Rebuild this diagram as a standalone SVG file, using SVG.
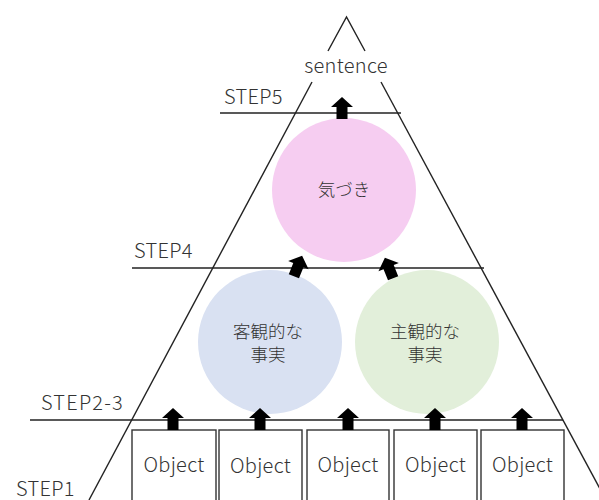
<svg xmlns="http://www.w3.org/2000/svg" width="599" height="500" viewBox="0 0 599 500">
<defs>
<style>
.ln{stroke:#222;stroke-width:1.4;fill:none}
.t{font-family:"Noto Sans CJK JP","Noto Sans",sans-serif;fill:#333;font-weight:300}
.lbl{font-size:20px;letter-spacing:0.3px}
.jp{font-size:17.5px}
.box{fill:#fff;stroke:#333;stroke-width:1.4}
.ar{fill:#000}
</style>
<path id="arr" d="M0,-11 L11,-1 L5.5,-1 L5.5,11 L-5.5,11 L-5.5,-1 L-11,-1 Z"/>
</defs>
<rect width="599" height="500" fill="#fff"/>
<g id="frame">
<path class="ln" d="M328,51 L346.5,17 L365,51"/>
<path class="ln" d="M312,82 L89,500"/>
<path class="ln" d="M381,82 L606,500"/>
<line class="ln" x1="220" y1="113" x2="401" y2="113"/>
<line class="ln" x1="132" y1="268" x2="484" y2="268"/>
<line class="ln" x1="30" y1="420" x2="563" y2="420"/>
<text class="t lbl" x="346" y="73" text-anchor="middle">sentence</text>
<text class="t lbl" x="224" y="104">STEP5</text>
<text class="t lbl" x="134" y="258">STEP4</text>
<text class="t lbl" x="41" y="410" style="letter-spacing:1.2px">STEP2-3</text>
<text class="t lbl" x="16" y="496">STEP1</text>
</g>
<g id="kizuki">
<circle cx="344" cy="190" r="72" fill="#f6cdf1"/>
<text class="t jp" x="344" y="196" text-anchor="middle" fill="#595959">気づき</text>
</g>
<g id="kyakkan">
<circle cx="270" cy="342" r="72" fill="#d9e1f2"/>
<text class="t jp" x="268" y="338" text-anchor="middle">客観的な</text>
<text class="t jp" x="268" y="361" text-anchor="middle">事実</text>
</g>
<g id="shukan">
<circle cx="427" cy="342" r="72" fill="#e2efda"/>
<text class="t jp" x="425" y="338" text-anchor="middle">主観的な</text>
<text class="t jp" x="425" y="361" text-anchor="middle">事実</text>
</g>
<g id="obj1"><rect class="box" x="132" y="430" width="84" height="80"/><text class="t lbl" x="174" y="472" text-anchor="middle">Object</text></g>
<g id="obj2"><rect class="box" x="219" y="430" width="83" height="80"/><text class="t lbl" x="260.5" y="473" text-anchor="middle">Object</text></g>
<g id="obj3"><rect class="box" x="307" y="430" width="82" height="80"/><text class="t lbl" x="348" y="472" text-anchor="middle">Object</text></g>
<g id="obj4"><rect class="box" x="394" y="430" width="83" height="80"/><text class="t lbl" x="435.5" y="472" text-anchor="middle">Object</text></g>
<g id="obj5"><rect class="box" x="481" y="430" width="83" height="80"/><text class="t lbl" x="522.5" y="472" text-anchor="middle">Object</text></g>
<g id="connectors" class="ar">
<use href="#arr" transform="translate(342,108)"/>
<use href="#arr" transform="translate(298,266) rotate(22)"/>
<use href="#arr" transform="translate(389,268) rotate(-22)"/>
<use href="#arr" transform="translate(173,419)"/>
<use href="#arr" transform="translate(260,419)"/>
<use href="#arr" transform="translate(348,419)"/>
<use href="#arr" transform="translate(435,419)"/>
<use href="#arr" transform="translate(522,419)"/>
</g>
</svg>
